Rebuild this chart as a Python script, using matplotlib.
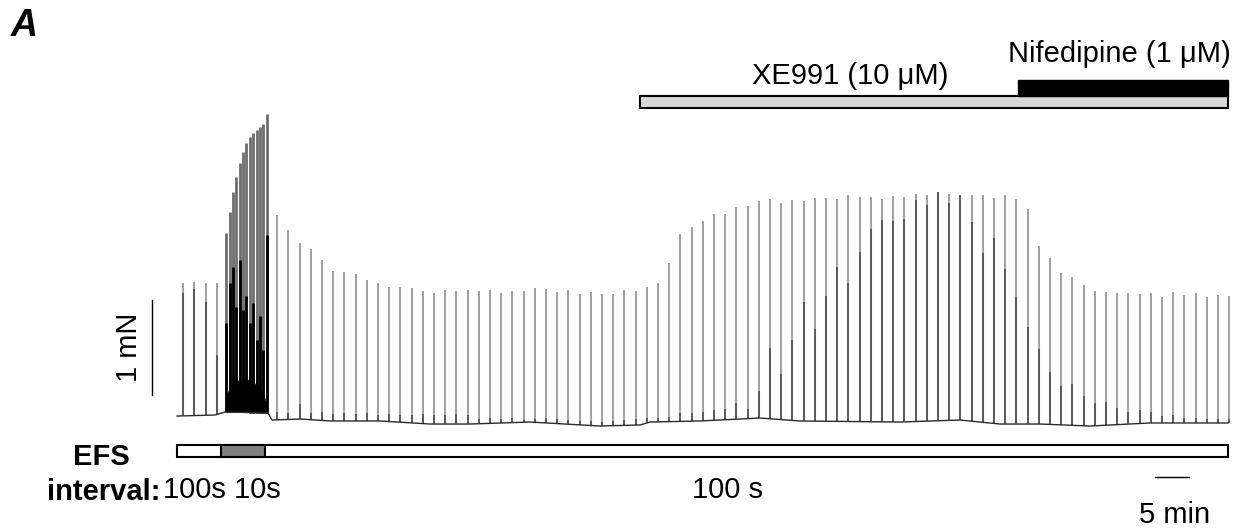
import numpy as np
import matplotlib
matplotlib.use("Agg")
import matplotlib.pyplot as plt
from matplotlib.patches import Rectangle

plt.rcParams['font.family'] = ['Liberation Sans', 'DejaVu Sans']

# ---------------- data ----------------
# Stimulation at 100 s intervals before the 10 s burst (times in s, force in mN)
pre_times = [55, 155, 255, 355]
pre_peak = [1.39, 1.40, 1.39, 1.39]
pre_relax = [1.28, 1.33, 1.19, 0.63]

# 10 s interval burst (visible twitches)
burst_times = [440, 470, 500, 530, 560, 590, 620, 650, 680, 710, 740, 770, 800]
burst_peak = [1.92, 2.14, 2.35, 2.51, 2.65, 2.77, 2.86, 2.93, 2.97, 3.00, 3.03, 3.06, 3.17]
burst_relax = [0.97, 1.39, 1.56, 1.14, 1.63, 1.11, 1.25, 0.97, 1.18, 0.79, 1.04, 0.68, 1.90]
burst_trough = [0.20, 0.30, 0.36, 0.40, 0.33, 0.42, 0.35, 0.40, 0.30, 0.36, 0.28, 0.25, 0.10]

# Back to 100 s intervals: control, XE991, XE991 + nifedipine
reg_start, reg_step, reg_count = 895, 100, 86
reg_peak = [
    2.105, 1.947, 1.807, 1.744, 1.632, 1.519, 1.505, 1.484, 1.421, 1.393,
    1.344, 1.351, 1.337, 1.308, 1.287, 1.316, 1.305, 1.313,
    1.308, 1.316, 1.281, 1.305, 1.305, 1.337, 1.323, 1.295, 1.316, 1.277,
    1.292, 1.277, 1.277, 1.319, 1.305, 1.347, 1.386,
    1.597, 1.902, 1.976, 2.045, 2.119, 2.113, 2.193, 2.203, 2.253, 2.274,
    2.228, 2.263, 2.253, 2.284, 2.284, 2.274, 2.316,
    2.292, 2.292, 2.277, 2.305, 2.292, 2.323, 2.316, 2.344, 2.329, 2.313,
    2.319, 2.319, 2.284, 2.313, 2.277, 2.168, 1.779,
    1.649, 1.492, 1.455, 1.365, 1.302, 1.295, 1.287, 1.287, 1.274, 1.287,
    1.239, 1.295, 1.263, 1.281, 1.245, 1.260, 1.256,
]
reg_relax = [
    0.03, 0.02, 0.12, 0.02, 0.03, 0.01, 0.02, 0.01, 0.02, 0.00,
    0.01, 0.00, 0.00, 0.01, 0.00, 0.00, 0.01, 0.00,
    -0.04, -0.03, -0.04, -0.03, -0.05, -0.04, -0.03, -0.04, -0.05, -0.06,
    -0.06, -0.07, -0.06, -0.05, -0.04, -0.03, -0.03,
    -0.018, 0.018, 0.018, 0.035, 0.053, 0.060, 0.129, 0.060, 0.256, 0.702,
    0.432, 0.789, 1.186, 0.905, 1.256, 1.561, 1.386,
    1.719, 1.961, 2.053, 2.045, 2.060, 2.263, 2.211, 2.344, 2.228, 2.313,
    2.035, 1.708, 1.860, 1.534, 1.239, 0.923, 0.692,
    0.449, 0.305, 0.326, 0.200, 0.129, 0.140, 0.077, 0.035, 0.053, 0.028,
    -0.010, 0.000, -0.028, -0.028, -0.042, -0.042, -0.042,
]

# Resting tension drift (s, mN)
base_t = [0, 339, 429, 813, 848, 1098, 1366, 1813, 2259, 2616, 3152, 3777,
          4134, 4223, 4670, 5205, 5563, 6455, 6991, 7348, 7705, 8152, 8688, 9384]
base_v = [-0.011, 0.0, 0.032, 0.021, -0.053, -0.042, -0.063, -0.063, -0.095,
          -0.095, -0.074, -0.116, -0.105, -0.074, -0.063, -0.032, -0.063,
          -0.074, -0.053, -0.095, -0.095, -0.116, -0.084, -0.084]

# Protocol (s)
record_end = 9384
burst_on, burst_off = 393, 786
xe991_on = 4134
nif_on = 7509

# ---------------- figure ----------------
W, H = 1251, 531
fig = plt.figure(figsize=(W / 100, H / 100), dpi=100)
ax = fig.add_axes([0, 0, 1, 1])
px_per_s = 0.112
px_per_mN = 95.0
x0_px, y0_px = 177, 415
ax.set_xlim(-x0_px / px_per_s, (W - x0_px) / px_per_s)
ax.set_ylim(-(H - y0_px) / px_per_mN, y0_px / px_per_mN)
ax.axis('off')

light = '#a2a2a2'
dark = '#5c5c5c'
lw_spk = 1.45

reg_times = reg_start + reg_step * np.arange(reg_count)

# resting trace
ax.plot(base_t, base_v, color='#2b2b2b', lw=1.0, zorder=3)

# pre-burst and regular twitches
for times, peak, relax in ((pre_times, pre_peak, pre_relax),
                           (reg_times, reg_peak, reg_relax)):
    times = np.asarray(times, float)
    b = np.interp(times, base_t, base_v)
    ax.vlines(times, b, peak, color=light, lw=lw_spk, zorder=2)
    r = np.maximum(np.asarray(relax), b)
    ax.vlines(times, b, r, color=dark, lw=lw_spk, zorder=2.5)

# burst: summating twitches
bt = np.asarray(burst_times, float)
bb = np.interp(bt, base_t, base_v)
ax.vlines(bt, bb, burst_peak, color='#6e6e6e', lw=2.0, zorder=2)
ax.vlines(bt, bb, burst_relax, color='black', lw=2.0, zorder=2.5)
ft = np.concatenate([[bt[0] - 8], bt, [bt[-1] + 12]])
fv = np.concatenate([[0.02], burst_trough, [0.0]])
ax.fill_between(ft, np.interp(ft, base_t, base_v), fv, color='black', lw=0, zorder=2.4)

# ---------------- drug bars ----------------
mN = 1 / px_per_mN
bar_lo, bar_hi = (y0_px - 108) * mN, (y0_px - 96) * mN
ax.add_patch(Rectangle((xe991_on, bar_lo), record_end - xe991_on, bar_hi - bar_lo,
                       facecolor='#d9d9d9', edgecolor='black', lw=1.5, zorder=4))
ax.add_patch(Rectangle((nif_on, bar_hi), record_end - nif_on, (y0_px - 80) * mN - bar_hi,
                       facecolor='black', edgecolor='black', lw=1.0, zorder=4))

fs = 21
ax.text((850 - x0_px) / px_per_s, (y0_px - 84) * mN, 'XE991 (10 μM)', fontsize=fs,
        ha='center', va='baseline')
ax.text((1119.5 - x0_px) / px_per_s, (y0_px - 62) * mN, 'Nifedipine (1 μM)', fontsize=fs,
        ha='center', va='baseline')

# ---------------- EFS bar ----------------
efs_lo, efs_hi = (y0_px - 457) * mN, (y0_px - 445) * mN
ax.add_patch(Rectangle((0, efs_lo), record_end, efs_hi - efs_lo,
                       facecolor='white', edgecolor='black', lw=1.5, zorder=4))
ax.add_patch(Rectangle((burst_on, efs_lo), burst_off - burst_on, efs_hi - efs_lo,
                       facecolor='#808080', edgecolor='black', lw=1.5, zorder=5))

ax.text((101 - x0_px) / px_per_s, (y0_px - 465) * mN, 'EFS', fontsize=fs,
        fontweight='bold', ha='center', va='baseline')
ax.text((160 - x0_px) / px_per_s, (y0_px - 500) * mN, 'interval:', fontsize=fs,
        fontweight='bold', ha='right', va='baseline')
ax.text((163 - x0_px) / px_per_s, (y0_px - 498) * mN, '100s 10s', fontsize=fs,
        ha='left', va='baseline')
ax.text((727 - x0_px) / px_per_s, (y0_px - 498) * mN, '100 s', fontsize=fs,
        ha='center', va='baseline')

# ---------------- scale bars ----------------
sb_t = (1155 - x0_px) / px_per_s
ax.plot([sb_t, sb_t + 300], [(y0_px - 476.5) * mN] * 2, color='black', lw=1.0)
ax.text(sb_t + 150 + 25, (y0_px - 523) * mN, '5 min', fontsize=fs,
        ha='center', va='baseline')

sv_t = (152 - x0_px) / px_per_s
sv_y = (y0_px - 395) * mN
ax.plot([sv_t, sv_t], [sv_y, sv_y + 1.0], color='black', lw=1.0)
ax.text((129 - x0_px) / px_per_s, sv_y + 0.5, '1 mN', fontsize=fs, rotation=90,
        ha='center', va='center')

ax.text((24 - x0_px) / px_per_s, (y0_px - 26) * mN, 'A', fontsize=27,
        fontweight='bold', fontstyle='italic', ha='center', va='center')

fig.savefig('out.png', dpi=100)
